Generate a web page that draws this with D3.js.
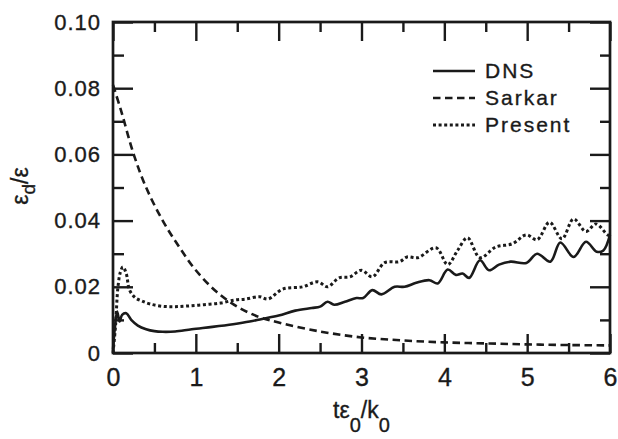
<!DOCTYPE html>
<meta charset='utf-8'>
<style>
html, body { margin: 0; padding: 0; background: #fff; }
svg { display: block; font-family: 'Liberation Sans', Arial, Helvetica, sans-serif; }
svg text { fill: #1a1a1a; stroke: #1a1a1a; stroke-width: 0.35px; }
</style>
<body>
<div id='chart'></div>
<script src='https://cdnjs.cloudflare.com/ajax/libs/d3/7.8.5/d3.min.js'></script>
<script>
// values
var dnsT = [0, 0.02, 0.05, 0.08, 0.11, 0.16, 0.22, 0.3, 0.4, 0.5, 0.6, 0.75, 0.95, 1.2, 1.45, 1.65, 1.8, 2.0, 2.2, 2.4, 2.5, 2.59, 2.67, 2.8, 2.94, 3.02, 3.13, 3.24, 3.4, 3.52, 3.66, 3.82, 3.92, 4.04, 4.14, 4.22, 4.3, 4.43, 4.54, 4.66, 4.8, 4.99, 5.12, 5.28, 5.4, 5.56, 5.71, 5.84, 5.92, 6.0];
var dnsV = [0.001, 0.007, 0.0125, 0.0095, 0.0115, 0.012, 0.010, 0.0083, 0.0072, 0.0066, 0.0064, 0.0065, 0.0072, 0.0079, 0.0087, 0.0095, 0.0103, 0.0113, 0.0128, 0.0136, 0.014, 0.0155, 0.0146, 0.0155, 0.0166, 0.0166, 0.019, 0.0177, 0.020, 0.020, 0.0212, 0.022, 0.021, 0.0252, 0.0236, 0.024, 0.0227, 0.028, 0.025, 0.0267, 0.0276, 0.0272, 0.030, 0.0276, 0.0334, 0.029, 0.0336, 0.0306, 0.031, 0.0357];

var sarkarT = [0, 0.1, 0.25, 0.4, 0.6, 0.8, 1.0, 1.25, 1.5, 1.75, 2.0, 2.5, 3.0, 3.5, 4.0, 4.5, 5.0, 5.5, 6.0];
var sarkarV = [0.081, 0.073, 0.060, 0.050, 0.040, 0.032, 0.025, 0.0185, 0.014, 0.011, 0.0092, 0.0065, 0.0047, 0.0038, 0.0032, 0.0029, 0.0026, 0.0024, 0.0023];

var presentT = [0, 0.03, 0.06, 0.09, 0.12, 0.16, 0.2, 0.27, 0.35, 0.45, 0.6, 0.75, 0.9, 1.1, 1.3, 1.47, 1.6, 1.77, 1.87, 2.05, 2.29, 2.47, 2.59, 2.73, 2.86, 3.0, 3.13, 3.28, 3.46, 3.55, 3.68, 3.9, 4.04, 4.16, 4.28, 4.43, 4.62, 4.82, 4.99, 5.12, 5.27, 5.42, 5.56, 5.71, 5.83, 5.97, 6.0];
var presentV = [0.0, 0.008, 0.02, 0.0245, 0.026, 0.024, 0.019, 0.0167, 0.0157, 0.0148, 0.0141, 0.014, 0.0142, 0.0146, 0.0151, 0.016, 0.0163, 0.017, 0.0163, 0.0193, 0.020, 0.0215, 0.020, 0.0227, 0.023, 0.025, 0.023, 0.0273, 0.0276, 0.029, 0.0288, 0.0318, 0.0267, 0.031, 0.0348, 0.0288, 0.032, 0.033, 0.0357, 0.0342, 0.0395, 0.0345, 0.0405, 0.0367, 0.039, 0.0357, 0.0355];

var xTicks = [0, 1, 2, 3, 4, 5, 6];
var xMinor = [0.5, 1.5, 2.5, 3.5, 4.5, 5.5];
var yTicks = [0, 0.02, 0.04, 0.06, 0.08, 0.10];
var yMinor = [0.01, 0.03, 0.05, 0.07, 0.09];
var legendNames = ['DNS', 'Sarkar', 'Present'];

var W = 618, H = 439;
var mLeft = 113, mRight = 610, mTop = 22, mBottom = 353;
var ink = '#1a1a1a';

var svg = d3.select('#chart').append('svg')
    .attr('width', W)
    .attr('height', H);

var x = d3.scaleLinear().domain([0, 6]).range([mLeft, mRight]);
var y = d3.scaleLinear().domain([0, 0.1]).range([mBottom, mTop]);

function fmtY(d) { return d === 0 ? '0' : d3.format('.2f')(d); }

// ticks, all pointing inward
function axisG(axis, tx, ty) {
  var g = svg.append('g')
    .attr('transform', 'translate(' + tx + ',' + ty + ')')
    .call(axis);
  g.select('.domain').remove();
  g.selectAll('line').attr('stroke', ink).attr('stroke-width', 2.4);
  return g;
}

var gx = axisG(d3.axisBottom(x).tickValues(xTicks).tickSize(-19).tickPadding(15).tickFormat(d3.format('d')), 0, mBottom);
gx.selectAll('text').style('font-size', '25px');
axisG(d3.axisBottom(x).tickValues(xMinor).tickSize(-10).tickFormat(''), 0, mBottom);
axisG(d3.axisTop(x).tickValues(xTicks).tickSize(-19).tickFormat(''), 0, mTop);
axisG(d3.axisTop(x).tickValues(xMinor).tickSize(-10).tickFormat(''), 0, mTop);

var gy = axisG(d3.axisLeft(y).tickValues(yTicks).tickSize(-20).tickPadding(12).tickFormat(fmtY), mLeft, 0);
gy.selectAll('text').style('font-size', '22px').style('letter-spacing', '1px');
axisG(d3.axisLeft(y).tickValues(yMinor).tickSize(-11).tickFormat(''), mLeft, 0);
axisG(d3.axisRight(y).tickValues(yTicks).tickSize(-20).tickFormat(''), mRight, 0);
axisG(d3.axisRight(y).tickValues(yMinor).tickSize(-10).tickFormat(''), mRight, 0);

// frame
svg.append('rect')
  .attr('x', mLeft).attr('y', mTop)
  .attr('width', mRight - mLeft).attr('height', mBottom - mTop)
  .attr('fill', 'none').attr('stroke', ink).attr('stroke-width', 2.7);

// curves
var line = d3.line()
  .x(function(d) { return x(d[0]); })
  .y(function(d) { return y(d[1]); })
  .curve(d3.curveCatmullRom.alpha(0.5));

var styles = [
  { dash: null, width: 2.6 },
  { dash: '7.5,4.5', width: 2.6 },
  { dash: '3,2.6', width: 3 }
];
var series = [d3.zip(dnsT, dnsV), d3.zip(sarkarT, sarkarV), d3.zip(presentT, presentV)];

series.forEach(function(s, i) {
  svg.append('path')
    .datum(s)
    .attr('d', line)
    .attr('fill', 'none')
    .attr('stroke', ink)
    .attr('stroke-width', styles[i].width)
    .attr('stroke-dasharray', styles[i].dash);
});

// legend
var legY = [71, 98, 125];
legendNames.forEach(function(name, i) {
  svg.append('line')
    .attr('x1', 433).attr('x2', 475)
    .attr('y1', legY[i]).attr('y2', legY[i])
    .attr('stroke', ink)
    .attr('stroke-width', styles[i].width)
    .attr('stroke-dasharray', styles[i].dash);
  svg.append('text')
    .attr('x', 485).attr('y', legY[i] + 7)
    .style('font-size', '21px')
    .style('letter-spacing', '2px')
    .text(name);
});

// axis titles
var xt = svg.append('text')
  .attr('x', 333).attr('y', 418)
  .style('font-size', '23px');
xt.append('tspan').text('tε');
xt.append('tspan').attr('dy', 14).style('font-size', '20px').text('0');
xt.append('tspan').attr('dy', -14).text('/k');
xt.append('tspan').attr('dy', 14).style('font-size', '20px').text('0');

var yt = svg.append('text')
  .attr('transform', 'translate(28,186) rotate(-90)')
  .attr('text-anchor', 'middle')
  .style('font-size', '23px');
yt.append('tspan').text('ε');
yt.append('tspan').attr('dy', 7).style('font-size', '19px').text('d');
yt.append('tspan').attr('dy', -7).text('/ε');
</script>
</body>
